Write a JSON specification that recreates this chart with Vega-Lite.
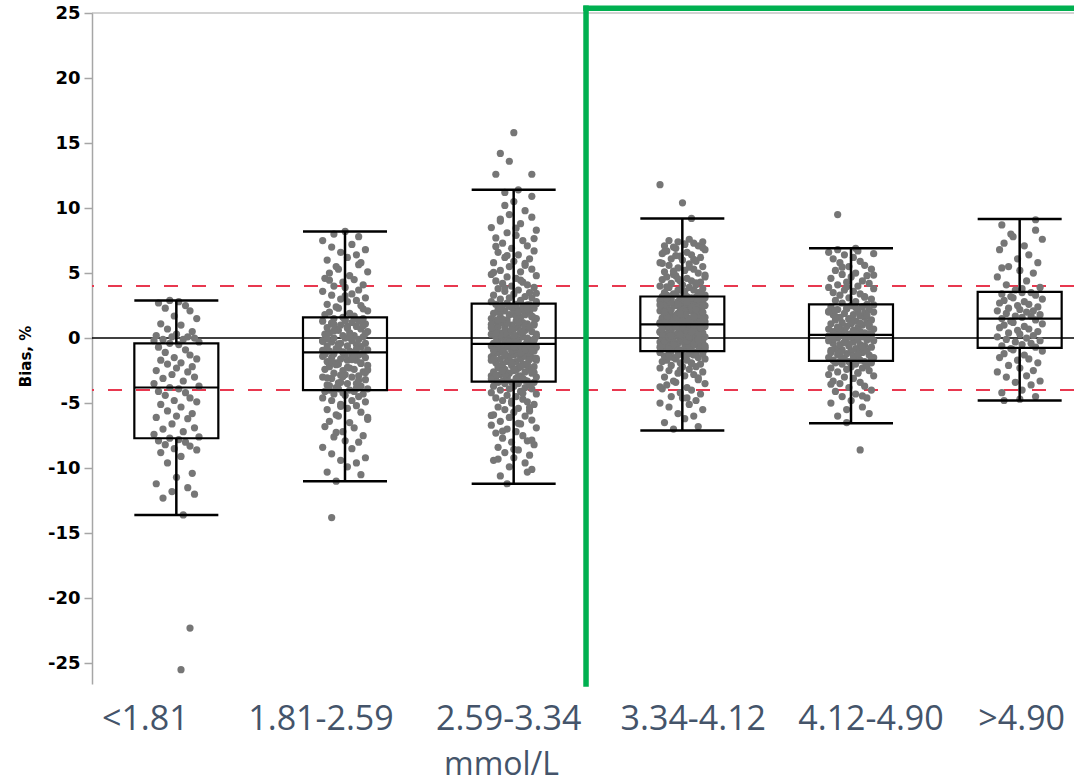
{
  "$schema": "https://vega.github.io/schema/vega-lite/v6.json",
  "width": 982,
  "height": 671,
  "autosize": {"type": "none"},
  "padding": {"left": 92, "top": 13, "right": 0, "bottom": 99},
  "background": "white",
  "config": {"view": {"stroke": null}},
  "datasets": {
    "stats": [
      {"g": 0, "grp": "<1.81", "lo": -13.6, "q1": -7.7, "med": -3.8, "q3": -0.4, "hi": 2.9},
      {"g": 1, "grp": "1.81-2.59", "lo": -11.0, "q1": -4.0, "med": -1.1, "q3": 1.6, "hi": 8.2},
      {"g": 2, "grp": "2.59-3.34", "lo": -11.2, "q1": -3.35, "med": -0.45, "q3": 2.65, "hi": 11.4},
      {"g": 3, "grp": "3.34-4.12", "lo": -7.1, "q1": -1.0, "med": 1.05, "q3": 3.2, "hi": 9.2},
      {"g": 4, "grp": "4.12-4.90", "lo": -6.55, "q1": -1.75, "med": 0.25, "q3": 2.6, "hi": 6.9},
      {"g": 5, "grp": ">4.90", "lo": -4.8, "q1": -0.75, "med": 1.5, "q3": 3.55, "hi": 9.15}
    ],
    "frame": [
      {"grp": "3.34-4.12", "top": 25.36, "bottom": -26.6}
    ]
  },
  "layer": [
    {
      "data": {"values": [{"lim": 4}, {"lim": -4}]},
      "mark": {"type": "rule", "color": "#E8384F", "strokeWidth": 2, "strokeDash": [14, 14]},
      "encoding": {"y": {"field": "lim", "type": "quantitative"}}
    },
    {
      "data": {"values": [{"ref": 0}]},
      "mark": {"type": "rule", "color": "#000000", "strokeWidth": 1.5},
      "encoding": {"y": {"field": "ref", "type": "quantitative"}}
    },
    {
      "data": {"values": [{"top": 25}]},
      "mark": {"type": "rule", "color": "#A6A6A6", "strokeWidth": 1.2},
      "encoding": {"y": {"field": "top", "type": "quantitative"}}
    },
    {
      "data": {
        "values": "g,v,j\n0,-13.6,3\n0,-12.3,-6\n0,-12.0,8\n0,-11.8,-2\n0,-11.5,5\n0,-11.2,-9\n0,-10.7,0\n0,-10.4,7\n0,-9.6,-4\n0,-9.1,2\n0,-8.8,-7\n0,-8.6,9\n0,-8.5,-1\n0,-8.3,6\n0,-8.2,-5\n0,-8.0,4\n0,-7.9,-8\n0,-7.8,1\n0,-7.7,-3\n0,-7.6,10\n0,-7.4,-10\n0,-7.2,3\n0,-7.0,-6\n0,-6.9,8\n0,-6.6,-2\n0,-6.2,5\n0,-6.1,-9\n0,-6.0,0\n0,-5.8,7\n0,-5.6,-4\n0,-5.3,2\n0,-5.1,-7\n0,-4.9,9\n0,-4.8,-1\n0,-4.6,6\n0,-4.4,-5\n0,-4.2,4\n0,-4.1,-8\n0,-3.9,1\n0,-3.8,-3\n0,-3.7,10\n0,-3.5,-10\n0,-3.3,3\n0,-3.1,-6\n0,-3.0,8\n0,-2.8,-2\n0,-2.6,5\n0,-2.5,-9\n0,-2.3,0\n0,-2.2,7\n0,-2.0,-4\n0,-1.9,2\n0,-1.7,-7\n0,-1.6,9\n0,-1.5,-1\n0,-1.3,6\n0,-1.1,-5\n0,-0.9,4\n0,-0.7,-8\n0,-0.5,1\n0,-0.4,-3\n0,-0.3,10\n0,-0.2,-10\n0,-0.1,3\n0,-0.1,-6\n0,0.0,8\n0,0.1,-2\n0,0.1,5\n0,0.2,-9\n0,0.3,0\n0,0.5,7\n0,0.7,-4\n0,1.0,2\n0,1.1,-7\n0,1.5,9\n0,1.7,-1\n0,2.1,6\n0,2.3,-5\n0,2.5,4\n0,2.7,-8\n0,2.8,1\n0,2.9,-3\n0,-22.3,6\n0,-25.5,2\n1,-11.0,-4\n1,-10.5,7\n1,-10.3,-8\n1,-9.9,1\n1,-9.6,5\n1,-9.4,-2\n1,-9.2,9\n1,-8.9,-6\n1,-8.5,3\n1,-8.4,-10\n1,-8.0,6\n1,-7.9,0\n1,-7.6,-5\n1,-7.5,8\n1,-7.2,-1\n1,-6.9,4\n1,-6.8,-9\n1,-6.5,2\n1,-6.4,-7\n1,-6.1,10\n1,-6.0,-3\n1,-5.9,-4\n1,-5.7,7\n1,-5.5,-8\n1,-5.4,1\n1,-5.2,5\n1,-5.1,-2\n1,-4.9,9\n1,-4.8,-6\n1,-4.8,3\n1,-4.6,-10\n1,-4.5,6\n1,-4.4,0\n1,-4.3,-5\n1,-4.3,8\n1,-4.2,-1\n1,-4.1,4\n1,-4.1,-9\n1,-4.0,2\n1,-4.0,-7\n1,-3.9,10\n1,-3.9,-3\n1,-3.8,-4\n1,-3.7,7\n1,-3.6,-8\n1,-3.5,1\n1,-3.5,5\n1,-3.4,-2\n1,-3.2,9\n1,-3.1,-6\n1,-3.0,3\n1,-3.0,-10\n1,-2.9,6\n1,-2.8,0\n1,-2.7,-5\n1,-2.6,8\n1,-2.5,-1\n1,-2.4,4\n1,-2.4,-9\n1,-2.3,2\n1,-2.2,-7\n1,-2.1,10\n1,-2.0,-3\n1,-1.9,-4\n1,-1.9,7\n1,-1.8,-8\n1,-1.7,1\n1,-1.7,5\n1,-1.6,-2\n1,-1.5,9\n1,-1.5,-6\n1,-1.4,3\n1,-1.4,-10\n1,-1.3,6\n1,-1.3,0\n1,-1.2,-5\n1,-1.2,8\n1,-1.1,-1\n1,-1.1,4\n1,-1.1,-9\n1,-1.0,2\n1,-1.0,-7\n1,-0.9,10\n1,-0.8,-3\n1,-0.8,-4\n1,-0.7,7\n1,-0.6,-8\n1,-0.6,1\n1,-0.5,5\n1,-0.4,-2\n1,-0.4,9\n1,-0.3,-6\n1,-0.2,3\n1,-0.2,-10\n1,-0.1,6\n1,0.0,0\n1,0.0,-5\n1,0.1,8\n1,0.2,-1\n1,0.2,4\n1,0.3,-9\n1,0.4,2\n1,0.4,-7\n1,0.5,10\n1,0.6,-3\n1,0.7,-4\n1,0.7,7\n1,0.8,-8\n1,0.9,1\n1,0.9,5\n1,1.0,-2\n1,1.1,9\n1,1.1,-6\n1,1.2,3\n1,1.3,-10\n1,1.3,6\n1,1.4,0\n1,1.5,-5\n1,1.5,8\n1,1.6,-1\n1,1.7,4\n1,1.8,-9\n1,1.9,2\n1,2.0,-7\n1,2.1,10\n1,2.3,-3\n1,2.4,-4\n1,2.5,7\n1,2.6,-8\n1,2.8,1\n1,2.9,5\n1,3.0,-2\n1,3.1,9\n1,3.3,-6\n1,3.4,3\n1,3.6,-10\n1,3.7,6\n1,3.9,0\n1,4.0,-5\n1,4.1,8\n1,4.3,-1\n1,4.5,4\n1,4.6,-9\n1,4.8,2\n1,5.0,-7\n1,5.1,10\n1,5.3,-3\n1,5.5,-4\n1,5.8,7\n1,6.0,-8\n1,6.2,1\n1,6.4,5\n1,6.6,-2\n1,6.8,9\n1,7.0,-6\n1,7.2,3\n1,7.5,-10\n1,7.8,6\n1,8.0,-5\n1,8.2,0\n1,-13.8,-6\n1,-3.85,5\n1,-3.45,-3\n1,-3.05,-8\n1,-2.65,9\n1,-2.25,1\n1,-1.85,-6\n1,-1.45,4\n1,-1.05,-1\n1,-0.65,7\n1,-0.25,-10\n1,0.15,2\n1,0.55,-5\n1,0.95,8\n1,1.35,0\n1,-3.65,-7\n1,-3.25,6\n1,-2.85,-2\n1,-2.45,10\n1,-2.05,-4\n1,-1.65,3\n1,-1.25,-9\n1,-0.85,5\n1,-0.45,-3\n1,-0.05,-8\n1,0.35,9\n1,0.75,1\n1,1.15,-6\n1,1.55,4\n1,-2.95,-1\n1,-1.95,7\n1,-0.95,-10\n1,0.05,2\n1,1.05,-5\n1,2.25,8\n1,3.25,0\n1,4.45,-7\n1,5.65,6\n1,-5.25,-2\n1,-6.25,10\n1,-7.25,-4\n2,-11.2,-3\n2,-10.6,-6\n2,-10.1,8\n2,-9.9,-2\n2,-9.6,5\n2,-9.4,-9\n2,-9.2,0\n2,-9.0,7\n2,-8.8,-4\n2,-8.6,2\n2,-8.4,-7\n2,-8.2,9\n2,-8.0,-1\n2,-7.9,6\n2,-7.7,-5\n2,-7.5,4\n2,-7.3,-8\n2,-7.2,1\n2,-7.0,-3\n2,-6.9,10\n2,-6.7,-10\n2,-6.6,3\n2,-6.4,-6\n2,-6.3,8\n2,-6.1,-2\n2,-6.0,5\n2,-5.9,-9\n2,-5.7,0\n2,-5.6,7\n2,-5.5,-4\n2,-5.4,2\n2,-5.3,-7\n2,-5.1,9\n2,-5.0,-1\n2,-4.9,6\n2,-4.8,-5\n2,-4.7,4\n2,-4.6,-8\n2,-4.5,1\n2,-4.4,-3\n2,-4.3,10\n2,-4.2,-10\n2,-4.1,3\n2,-4.0,-6\n2,-3.9,8\n2,-3.9,-2\n2,-3.8,5\n2,-3.7,-9\n2,-3.7,0\n2,-3.6,7\n2,-3.5,-4\n2,-3.5,2\n2,-3.4,-7\n2,-3.4,9\n2,-3.4,-1\n2,-3.3,6\n2,-3.3,-5\n2,-3.2,4\n2,-3.2,-8\n2,-3.1,1\n2,-3.0,-3\n2,-3.0,10\n2,-2.9,-10\n2,-2.9,3\n2,-2.8,-6\n2,-2.7,8\n2,-2.7,-2\n2,-2.6,5\n2,-2.6,-9\n2,-2.5,0\n2,-2.4,7\n2,-2.4,-4\n2,-2.3,2\n2,-2.3,-7\n2,-2.2,9\n2,-2.1,-1\n2,-2.1,6\n2,-2.0,-5\n2,-2.0,4\n2,-1.9,-8\n2,-1.8,1\n2,-1.8,-3\n2,-1.7,10\n2,-1.7,-10\n2,-1.6,3\n2,-1.6,-6\n2,-1.5,8\n2,-1.4,-2\n2,-1.4,5\n2,-1.3,-9\n2,-1.3,0\n2,-1.2,7\n2,-1.2,-4\n2,-1.1,2\n2,-1.1,-7\n2,-1.0,9\n2,-1.0,-1\n2,-0.9,6\n2,-0.9,-5\n2,-0.8,4\n2,-0.8,-8\n2,-0.8,1\n2,-0.7,-3\n2,-0.7,10\n2,-0.6,-10\n2,-0.6,3\n2,-0.6,-6\n2,-0.5,8\n2,-0.5,-2\n2,-0.5,5\n2,-0.4,-9\n2,-0.4,0\n2,-0.3,7\n2,-0.3,-4\n2,-0.2,2\n2,-0.2,-7\n2,-0.1,9\n2,-0.1,-1\n2,0.0,6\n2,0.0,-5\n2,0.1,4\n2,0.1,-8\n2,0.2,1\n2,0.2,-3\n2,0.3,10\n2,0.3,-10\n2,0.4,3\n2,0.4,-6\n2,0.5,8\n2,0.5,-2\n2,0.6,5\n2,0.6,-9\n2,0.7,0\n2,0.8,7\n2,0.8,-4\n2,0.9,2\n2,0.9,-7\n2,1.0,9\n2,1.0,-1\n2,1.1,6\n2,1.2,-5\n2,1.2,4\n2,1.3,-8\n2,1.3,1\n2,1.4,-3\n2,1.5,10\n2,1.5,-10\n2,1.6,3\n2,1.6,-6\n2,1.7,8\n2,1.8,-2\n2,1.8,5\n2,1.9,-9\n2,2.0,0\n2,2.0,7\n2,2.1,-4\n2,2.2,2\n2,2.2,-7\n2,2.3,9\n2,2.4,-1\n2,2.4,6\n2,2.5,-5\n2,2.5,4\n2,2.6,-8\n2,2.6,1\n2,2.7,-3\n2,2.8,10\n2,2.8,-10\n2,2.9,3\n2,3.0,-6\n2,3.1,8\n2,3.1,-2\n2,3.2,5\n2,3.3,-9\n2,3.4,0\n2,3.5,7\n2,3.6,-4\n2,3.7,2\n2,3.8,-7\n2,3.9,9\n2,4.0,-1\n2,4.1,6\n2,4.2,-5\n2,4.3,4\n2,4.4,-8\n2,4.6,1\n2,4.7,-3\n2,4.8,10\n2,4.9,-10\n2,5.1,3\n2,5.2,-6\n2,5.3,8\n2,5.5,-2\n2,5.6,5\n2,5.8,-9\n2,5.9,0\n2,6.1,7\n2,6.2,-4\n2,6.4,2\n2,6.6,-7\n2,6.7,9\n2,6.9,-1\n2,7.1,6\n2,7.3,-5\n2,7.5,4\n2,7.7,-8\n2,7.9,1\n2,8.1,-3\n2,8.3,10\n2,8.5,-10\n2,8.8,3\n2,9.0,-6\n2,9.3,8\n2,9.5,-2\n2,9.8,5\n2,10.2,-4\n2,10.5,0\n2,10.9,8\n2,11.2,-4\n2,11.4,2\n2,15.8,0\n2,14.2,-6\n2,13.6,-2\n2,12.6,-8\n2,12.6,8\n2,-3.25,5\n2,-3.05,-3\n2,-2.85,-8\n2,-2.65,9\n2,-2.45,1\n2,-2.25,-6\n2,-2.05,4\n2,-1.85,-1\n2,-1.65,7\n2,-1.45,-10\n2,-1.25,2\n2,-1.05,-5\n2,-0.85,8\n2,-0.65,0\n2,-0.45,-7\n2,-0.25,6\n2,-0.05,-2\n2,0.15,10\n2,0.35,-4\n2,0.55,3\n2,0.75,-9\n2,0.95,5\n2,1.15,-3\n2,1.35,-8\n2,1.55,9\n2,1.75,1\n2,1.95,-6\n2,2.15,4\n2,2.35,-1\n2,2.55,7\n2,-3.15,-10\n2,-2.95,2\n2,-2.75,-5\n2,-2.55,8\n2,-2.35,0\n2,-2.15,-7\n2,-1.95,6\n2,-1.75,-2\n2,-1.55,10\n2,-1.35,-4\n2,-1.15,3\n2,-0.95,-9\n2,-0.75,5\n2,-0.55,-3\n2,-0.35,-8\n2,-0.15,9\n2,0.05,1\n2,0.25,-6\n2,0.45,4\n2,0.65,-1\n2,0.85,7\n2,1.05,-10\n2,1.25,2\n2,1.45,-5\n2,1.65,8\n2,1.85,0\n2,2.05,-7\n2,2.25,6\n2,2.45,-2\n2,2.65,10\n2,-2.8,-4\n2,-2.2,3\n2,-1.6,-9\n2,-0.9,5\n2,-0.2,-3\n2,0.4,-8\n2,1.1,9\n2,1.7,1\n2,2.3,-6\n2,-3.1,4\n2,-1.9,-1\n2,-0.6,7\n2,0.8,-10\n2,2.0,2\n2,-2.5,-5\n2,-1.0,8\n2,0.2,0\n2,1.4,-7\n2,2.55,6\n2,-0.3,-2\n2,3.45,10\n2,3.85,-4\n2,4.45,3\n2,5.05,-9\n2,5.75,5\n2,6.35,-3\n2,7.05,-8\n2,7.65,9\n2,8.45,1\n2,9.15,-6\n2,-4.25,4\n2,-4.85,-1\n2,-5.35,7\n2,-5.95,-10\n2,-6.55,2\n2,-7.15,-5\n2,-7.85,8\n2,-8.55,0\n2,-9.3,-7\n2,-10.3,6\n3,-7.0,-4\n3,-6.8,7\n3,-6.5,-8\n3,-6.2,1\n3,-6.0,5\n3,-5.8,-2\n3,-5.5,9\n3,-5.3,-6\n3,-5.1,3\n3,-5.0,-10\n3,-4.8,6\n3,-4.6,0\n3,-4.5,-5\n3,-4.3,8\n3,-4.2,-1\n3,-4.0,4\n3,-3.9,-9\n3,-3.8,2\n3,-3.6,-7\n3,-3.5,10\n3,-3.4,-3\n3,-3.3,-4\n3,-3.2,7\n3,-3.0,-8\n3,-2.9,1\n3,-2.8,5\n3,-2.7,-2\n3,-2.6,9\n3,-2.5,-6\n3,-2.4,3\n3,-2.3,-10\n3,-2.2,6\n3,-2.2,0\n3,-2.1,-5\n3,-2.0,8\n3,-1.9,-1\n3,-1.9,4\n3,-1.8,-9\n3,-1.7,2\n3,-1.7,-7\n3,-1.6,10\n3,-1.6,-3\n3,-1.5,-4\n3,-1.5,7\n3,-1.4,-8\n3,-1.4,1\n3,-1.3,5\n3,-1.3,-2\n3,-1.2,9\n3,-1.2,-6\n3,-1.2,3\n3,-1.1,-10\n3,-1.1,6\n3,-1.0,0\n3,-1.0,-5\n3,-0.9,8\n3,-0.9,-1\n3,-0.9,4\n3,-0.8,-9\n3,-0.8,2\n3,-0.7,-7\n3,-0.7,10\n3,-0.7,-3\n3,-0.6,-4\n3,-0.6,7\n3,-0.5,-8\n3,-0.5,1\n3,-0.5,5\n3,-0.4,-2\n3,-0.4,9\n3,-0.3,-6\n3,-0.3,3\n3,-0.3,-10\n3,-0.2,6\n3,-0.2,0\n3,-0.1,-5\n3,-0.1,8\n3,-0.1,-1\n3,0.0,4\n3,0.0,-9\n3,0.0,2\n3,0.1,-7\n3,0.1,10\n3,0.2,-3\n3,0.2,-4\n3,0.2,7\n3,0.3,-8\n3,0.3,1\n3,0.4,5\n3,0.4,-2\n3,0.4,9\n3,0.5,-6\n3,0.5,3\n3,0.5,-10\n3,0.6,6\n3,0.6,0\n3,0.7,-5\n3,0.7,8\n3,0.7,-1\n3,0.8,4\n3,0.8,-9\n3,0.8,2\n3,0.9,-7\n3,0.9,10\n3,0.9,-3\n3,1.0,-4\n3,1.0,7\n3,1.0,-8\n3,1.0,1\n3,1.1,5\n3,1.1,-2\n3,1.1,9\n3,1.2,-6\n3,1.2,3\n3,1.2,-10\n3,1.3,6\n3,1.3,0\n3,1.4,-5\n3,1.4,8\n3,1.4,-1\n3,1.5,4\n3,1.5,-9\n3,1.6,2\n3,1.6,-7\n3,1.6,10\n3,1.7,-3\n3,1.7,-4\n3,1.8,7\n3,1.8,-8\n3,1.9,1\n3,1.9,5\n3,1.9,-2\n3,2.0,9\n3,2.0,-6\n3,2.1,3\n3,2.1,-10\n3,2.1,6\n3,2.2,0\n3,2.2,-5\n3,2.3,8\n3,2.3,-1\n3,2.3,4\n3,2.4,-9\n3,2.4,2\n3,2.5,-7\n3,2.5,10\n3,2.5,-3\n3,2.6,-4\n3,2.6,7\n3,2.7,-8\n3,2.7,1\n3,2.7,5\n3,2.8,-2\n3,2.8,9\n3,2.9,-6\n3,2.9,3\n3,2.9,-10\n3,3.0,6\n3,3.0,0\n3,3.0,-5\n3,3.1,8\n3,3.1,-1\n3,3.1,4\n3,3.2,-9\n3,3.2,2\n3,3.3,-7\n3,3.3,10\n3,3.4,-3\n3,3.4,-4\n3,3.5,7\n3,3.5,-8\n3,3.6,1\n3,3.7,5\n3,3.7,-2\n3,3.8,9\n3,3.9,-6\n3,3.9,3\n3,4.0,-10\n3,4.1,6\n3,4.1,0\n3,4.2,-5\n3,4.3,8\n3,4.4,-1\n3,4.4,4\n3,4.5,-9\n3,4.6,2\n3,4.7,-7\n3,4.7,10\n3,4.8,-3\n3,4.9,-4\n3,5.0,7\n3,5.1,-8\n3,5.2,1\n3,5.3,5\n3,5.4,-2\n3,5.5,9\n3,5.6,-6\n3,5.7,3\n3,5.8,-10\n3,5.9,6\n3,6.0,0\n3,6.1,-5\n3,6.2,8\n3,6.3,-1\n3,6.4,4\n3,6.5,-9\n3,6.6,2\n3,6.7,-7\n3,6.8,10\n3,6.9,-3\n3,7.0,-4\n3,7.1,7\n3,7.1,-8\n3,7.2,1\n3,7.3,5\n3,7.4,-2\n3,7.4,9\n3,7.5,-6\n3,7.6,3\n3,9.2,4\n3,11.8,-10\n3,10.4,0\n3,-0.95,-2\n3,-0.85,10\n3,-0.75,-4\n3,-0.65,3\n3,-0.55,-9\n3,-0.45,5\n3,-0.35,-3\n3,-0.25,-8\n3,-0.15,9\n3,-0.05,1\n3,0.05,-6\n3,0.15,4\n3,0.25,-1\n3,0.35,7\n3,0.45,-10\n3,0.55,2\n3,0.65,-5\n3,0.75,8\n3,0.85,0\n3,0.95,-7\n3,1.05,6\n3,1.15,-2\n3,1.25,10\n3,1.35,-4\n3,1.45,3\n3,1.55,-9\n3,1.65,5\n3,1.75,-3\n3,1.85,-8\n3,1.95,9\n3,2.05,1\n3,2.15,-6\n3,2.25,4\n3,2.35,-1\n3,2.45,7\n3,2.55,-10\n3,2.65,2\n3,2.75,-5\n3,2.85,8\n3,2.95,0\n3,3.05,-7\n3,3.15,6\n3,-0.9,-2\n3,-0.6,10\n3,-0.3,-4\n3,0.0,3\n3,0.3,-9\n3,0.6,5\n3,0.9,-3\n3,1.2,-8\n3,1.5,9\n3,1.8,1\n3,2.1,-6\n3,2.4,4\n3,2.7,-1\n3,3.0,7\n3,-0.7,-10\n3,-0.2,2\n3,0.4,-5\n3,0.8,8\n3,1.3,0\n3,1.7,-7\n3,2.2,6\n3,2.6,-2\n3,3.1,10\n3,-0.5,-4\n3,0.1,3\n3,0.7,-9\n3,1.0,5\n3,1.6,-3\n3,2.0,-8\n3,2.5,9\n3,2.9,1\n3,-0.8,-6\n3,0.5,4\n3,1.9,-1\n3,-0.1,7\n3,1.1,-10\n3,2.8,2\n3,0.2,-5\n3,3.35,8\n3,3.65,0\n3,3.95,-7\n3,4.25,6\n3,4.55,-2\n3,4.85,10\n3,5.15,-4\n3,5.45,3\n3,5.75,-9\n3,6.05,5\n3,6.35,-3\n3,6.65,-8\n3,6.95,9\n3,7.25,1\n3,-1.45,-6\n3,-1.95,4\n3,-2.45,-1\n3,-3.05,7\n3,-3.75,-10\n3,-4.6,2\n4,-6.5,-2\n4,-6.0,-6\n4,-5.8,8\n4,-5.5,-2\n4,-5.3,5\n4,-5.0,-9\n4,-4.8,0\n4,-4.6,7\n4,-4.5,-4\n4,-4.3,2\n4,-4.1,-7\n4,-4.0,9\n4,-3.8,-1\n4,-3.7,6\n4,-3.5,-5\n4,-3.4,4\n4,-3.3,-8\n4,-3.1,1\n4,-3.0,-3\n4,-2.9,10\n4,-2.8,-10\n4,-2.7,3\n4,-2.6,-6\n4,-2.5,8\n4,-2.4,-2\n4,-2.3,5\n4,-2.3,-9\n4,-2.2,0\n4,-2.1,7\n4,-2.0,-4\n4,-2.0,2\n4,-1.9,-7\n4,-1.9,9\n4,-1.8,-1\n4,-1.8,6\n4,-1.8,-5\n4,-1.7,4\n4,-1.7,-8\n4,-1.6,1\n4,-1.6,-3\n4,-1.5,10\n4,-1.5,-10\n4,-1.4,3\n4,-1.3,-6\n4,-1.3,8\n4,-1.2,-2\n4,-1.1,5\n4,-1.1,-9\n4,-1.0,0\n4,-1.0,7\n4,-0.9,-4\n4,-0.8,2\n4,-0.8,-7\n4,-0.7,9\n4,-0.6,-1\n4,-0.6,6\n4,-0.5,-5\n4,-0.5,4\n4,-0.4,-8\n4,-0.3,1\n4,-0.3,-3\n4,-0.2,10\n4,-0.2,-10\n4,-0.1,3\n4,0.0,-6\n4,0.0,8\n4,0.0,-2\n4,0.1,5\n4,0.1,-9\n4,0.1,0\n4,0.2,7\n4,0.2,-4\n4,0.2,2\n4,0.3,-7\n4,0.3,9\n4,0.3,-1\n4,0.4,6\n4,0.4,-5\n4,0.5,4\n4,0.5,-8\n4,0.6,1\n4,0.6,-3\n4,0.7,10\n4,0.7,-10\n4,0.8,3\n4,0.8,-6\n4,0.9,8\n4,0.9,-2\n4,1.0,5\n4,1.1,-9\n4,1.1,0\n4,1.2,7\n4,1.2,-4\n4,1.3,2\n4,1.4,-7\n4,1.4,9\n4,1.5,-1\n4,1.6,6\n4,1.6,-5\n4,1.7,4\n4,1.8,-8\n4,1.8,1\n4,1.9,-3\n4,2.0,10\n4,2.0,-10\n4,2.1,3\n4,2.2,-6\n4,2.2,8\n4,2.3,-2\n4,2.4,5\n4,2.4,-9\n4,2.5,0\n4,2.6,7\n4,2.7,-4\n4,2.8,2\n4,2.9,-7\n4,3.0,9\n4,3.1,-1\n4,3.2,6\n4,3.3,-5\n4,3.4,4\n4,3.5,-8\n4,3.6,1\n4,3.7,-3\n4,3.8,10\n4,3.9,-10\n4,4.0,3\n4,4.1,-6\n4,4.2,8\n4,4.3,-2\n4,4.4,5\n4,4.6,-9\n4,4.7,0\n4,4.8,7\n4,4.9,-4\n4,5.0,2\n4,5.2,-7\n4,5.3,9\n4,5.5,-1\n4,5.6,6\n4,5.8,-5\n4,5.9,4\n4,6.1,-8\n4,6.2,1\n4,6.4,-3\n4,6.5,10\n4,6.6,-10\n4,6.7,3\n4,6.8,-6\n4,6.9,2\n4,9.5,-6\n4,-8.6,4\n4,-1.65,9\n4,-1.35,1\n4,-1.05,-6\n4,-0.75,4\n4,-0.45,-1\n4,-0.15,7\n4,0.15,-10\n4,0.45,2\n4,0.75,-5\n4,1.05,8\n4,1.35,0\n4,1.65,-7\n4,1.95,6\n4,2.25,-2\n4,2.55,10\n4,-1.55,-4\n4,-1.25,3\n4,-0.95,-9\n4,-0.65,5\n4,-0.35,-3\n4,-0.05,-8\n4,0.25,9\n4,0.55,1\n4,0.85,-6\n4,1.15,4\n4,1.45,-1\n4,1.75,7\n4,2.05,-10\n4,2.35,2\n4,-1.15,-5\n4,0.35,8\n4,1.25,0\n4,2.15,-7\n4,3.15,6\n4,3.95,-2\n4,4.85,10\n4,5.45,-4\n4,-2.65,3\n4,-3.55,-9\n4,-4.45,5\n5,-4.8,-7\n5,-4.7,0\n5,-4.5,7\n5,-4.2,-8\n5,-4.0,1\n5,-3.6,5\n5,-3.4,-2\n5,-3.3,9\n5,-3.0,-6\n5,-2.9,3\n5,-2.6,-10\n5,-2.5,6\n5,-2.3,0\n5,-2.1,-5\n5,-1.9,8\n5,-1.7,-1\n5,-1.6,4\n5,-1.5,-9\n5,-1.3,2\n5,-1.2,-7\n5,-1.0,10\n5,-0.9,-3\n5,-0.8,-4\n5,-0.7,7\n5,-0.6,-8\n5,-0.5,1\n5,-0.4,5\n5,-0.3,-2\n5,-0.2,9\n5,-0.1,-6\n5,0.0,3\n5,0.1,-10\n5,0.2,6\n5,0.3,0\n5,0.4,-5\n5,0.5,8\n5,0.6,-1\n5,0.7,4\n5,0.8,-9\n5,0.9,2\n5,1.0,-7\n5,1.1,10\n5,1.2,-3\n5,1.3,-4\n5,1.4,7\n5,1.5,-8\n5,1.6,1\n5,1.7,5\n5,1.7,-2\n5,1.8,9\n5,1.9,-6\n5,2.0,3\n5,2.1,-10\n5,2.1,6\n5,2.2,0\n5,2.3,-5\n5,2.4,8\n5,2.5,-1\n5,2.6,4\n5,2.7,-9\n5,2.8,2\n5,2.9,-7\n5,3.0,10\n5,3.1,-3\n5,3.2,-4\n5,3.3,7\n5,3.4,-8\n5,3.5,1\n5,3.5,5\n5,3.7,-2\n5,3.9,9\n5,4.1,-6\n5,4.4,3\n5,4.7,-10\n5,5.0,6\n5,5.2,0\n5,5.5,-5\n5,5.8,8\n5,6.1,-1\n5,6.4,4\n5,6.8,-9\n5,7.1,2\n5,7.3,-7\n5,7.6,10\n5,7.8,-3\n5,8.0,-4\n5,8.3,7\n5,8.7,-8\n5,9.1,7\n5,5.4,-8\n5,3.8,1",
        "format": {"type": "csv"}
      },
      "transform": [
        {"lookup": "g", "from": {"data": {"name": "stats"}, "key": "g", "fields": ["grp"]}}
      ],
      "mark": {"type": "circle", "size": 52, "color": "#767676", "opacity": 1},
      "encoding": {
        "x": {
          "field": "grp",
          "type": "nominal",
          "scale": {
            "type": "band",
            "domain": ["<1.81", "1.81-2.59", "2.59-3.34", "3.34-4.12", "4.12-4.90", ">4.90"],
            "range": [0, 1012],
            "paddingInner": 0,
            "paddingOuter": 0
          },
          "axis": {
            "title": "mmol/L",
            "domain": false,
            "ticks": false,
            "grid": false,
            "labelAngle": 0,
            "labelFont": "Open Sans",
            "labelFontSize": 34,
            "labelColor": "#44546A",
            "labelBaseline": "alphabetic",
            "labelPadding": 45,
            "labelOverlap": false,
            "labelLimit": 0,
            "labelOffset": {
              "condition": [
                {"test": "datum.value === '<1.81'", "value": -31},
                {"test": "datum.value === '1.81-2.59'", "value": -24},
                {"test": "datum.value === '2.59-3.34'", "value": -5},
                {"test": "datum.value === '3.34-4.12'", "value": 11},
                {"test": "datum.value === '4.12-4.90'", "value": 20}
              ],
              "value": 2
            },
            "titleFont": "Open Sans",
            "titleFontSize": 32,
            "titleFontWeight": "normal",
            "titleColor": "#44546A",
            "titleX": 409,
            "titleY": 90,
            "titleAlign": "center",
            "titleBaseline": "alphabetic"
          }
        },
        "xOffset": {
          "field": "j",
          "type": "quantitative",
          "scale": {"domain": [-10, 10], "range": [62, 107]}
        },
        "y": {
          "field": "v",
          "type": "quantitative",
          "scale": {"domain": [-26.6, 25], "nice": false, "zero": false},
          "axis": {
            "title": "Bias, %",
            "grid": false,
            "values": [-25, -22.5, -20, -17.5, -15, -12.5, -10, -7.5, -5, -2.5, 0, 2.5, 5, 7.5, 10, 12.5, 15, 17.5, 20, 22.5, 25],
            "labelExpr": "datum.value % 5 === 0 ? toString(datum.value) : ''",
            "labelFont": "DejaVu Sans",
            "labelFontSize": 18,
            "labelFontWeight": "bold",
            "labelColor": "#000000",
            "labelFlush": false,
            "labelPadding": 4,
            "domainColor": "#A6A6A6",
            "domainWidth": 1.5,
            "tickColor": "#A6A6A6",
            "tickWidth": 1.5,
            "tickSize": {"condition": {"test": "datum.value % 5 === 0", "value": 8}, "value": 4},
            "titleFont": "DejaVu Sans",
            "titleFontSize": 15,
            "titleFontWeight": "bold",
            "titleColor": "#000000",
            "titleAngle": 270,
            "titleX": -67,
            "titleY": 343,
            "titleAlign": "center",
            "titleBaseline": "middle"
          }
        }
      }
    },
    {
      "data": {"name": "stats"},
      "layer": [
        {
          "mark": {"type": "rule", "color": "#000000", "strokeWidth": 2.5},
          "encoding": {
            "x": {"field": "grp", "type": "nominal"},
            "y": {"field": "lo", "type": "quantitative"},
            "y2": {"field": "q1"}
          }
        },
        {
          "mark": {"type": "rule", "color": "#000000", "strokeWidth": 2.5},
          "encoding": {
            "x": {"field": "grp", "type": "nominal"},
            "y": {"field": "q3", "type": "quantitative"},
            "y2": {"field": "hi"}
          }
        },
        {
          "mark": {"type": "bar", "width": 84, "fillOpacity": 0, "stroke": "#000000", "strokeWidth": 2.2},
          "encoding": {
            "x": {"field": "grp", "type": "nominal"},
            "y": {"field": "q1", "type": "quantitative"},
            "y2": {"field": "q3"}
          }
        },
        {
          "mark": {"type": "tick", "orient": "horizontal", "size": 84, "thickness": 2.2, "color": "#000000", "opacity": 1},
          "encoding": {
            "x": {"field": "grp", "type": "nominal"},
            "y": {"field": "med", "type": "quantitative"}
          }
        },
        {
          "mark": {"type": "tick", "orient": "horizontal", "size": 84, "thickness": 2.5, "color": "#000000", "opacity": 1},
          "encoding": {
            "x": {"field": "grp", "type": "nominal"},
            "y": {"field": "lo", "type": "quantitative"}
          }
        },
        {
          "mark": {"type": "tick", "orient": "horizontal", "size": 84, "thickness": 2.5, "color": "#000000", "opacity": 1},
          "encoding": {
            "x": {"field": "grp", "type": "nominal"},
            "y": {"field": "hi", "type": "quantitative"}
          }
        }
      ]
    },
    {
      "data": {"name": "frame"},
      "layer": [
        {
          "mark": {"type": "rule", "color": "#00B050", "strokeWidth": 5.5, "strokeCap": "square"},
          "encoding": {
            "x": {"field": "grp", "type": "nominal", "bandPosition": -0.071},
            "y": {"field": "bottom", "type": "quantitative"},
            "y2": {"field": "top"}
          }
        },
        {
          "mark": {"type": "rule", "color": "#00B050", "strokeWidth": 5.5, "strokeCap": "square"},
          "encoding": {
            "x": {"field": "grp", "type": "nominal", "bandPosition": -0.071},
            "x2": {"value": "width"},
            "y": {"field": "top", "type": "quantitative"}
          }
        }
      ]
    }
  ]
}
